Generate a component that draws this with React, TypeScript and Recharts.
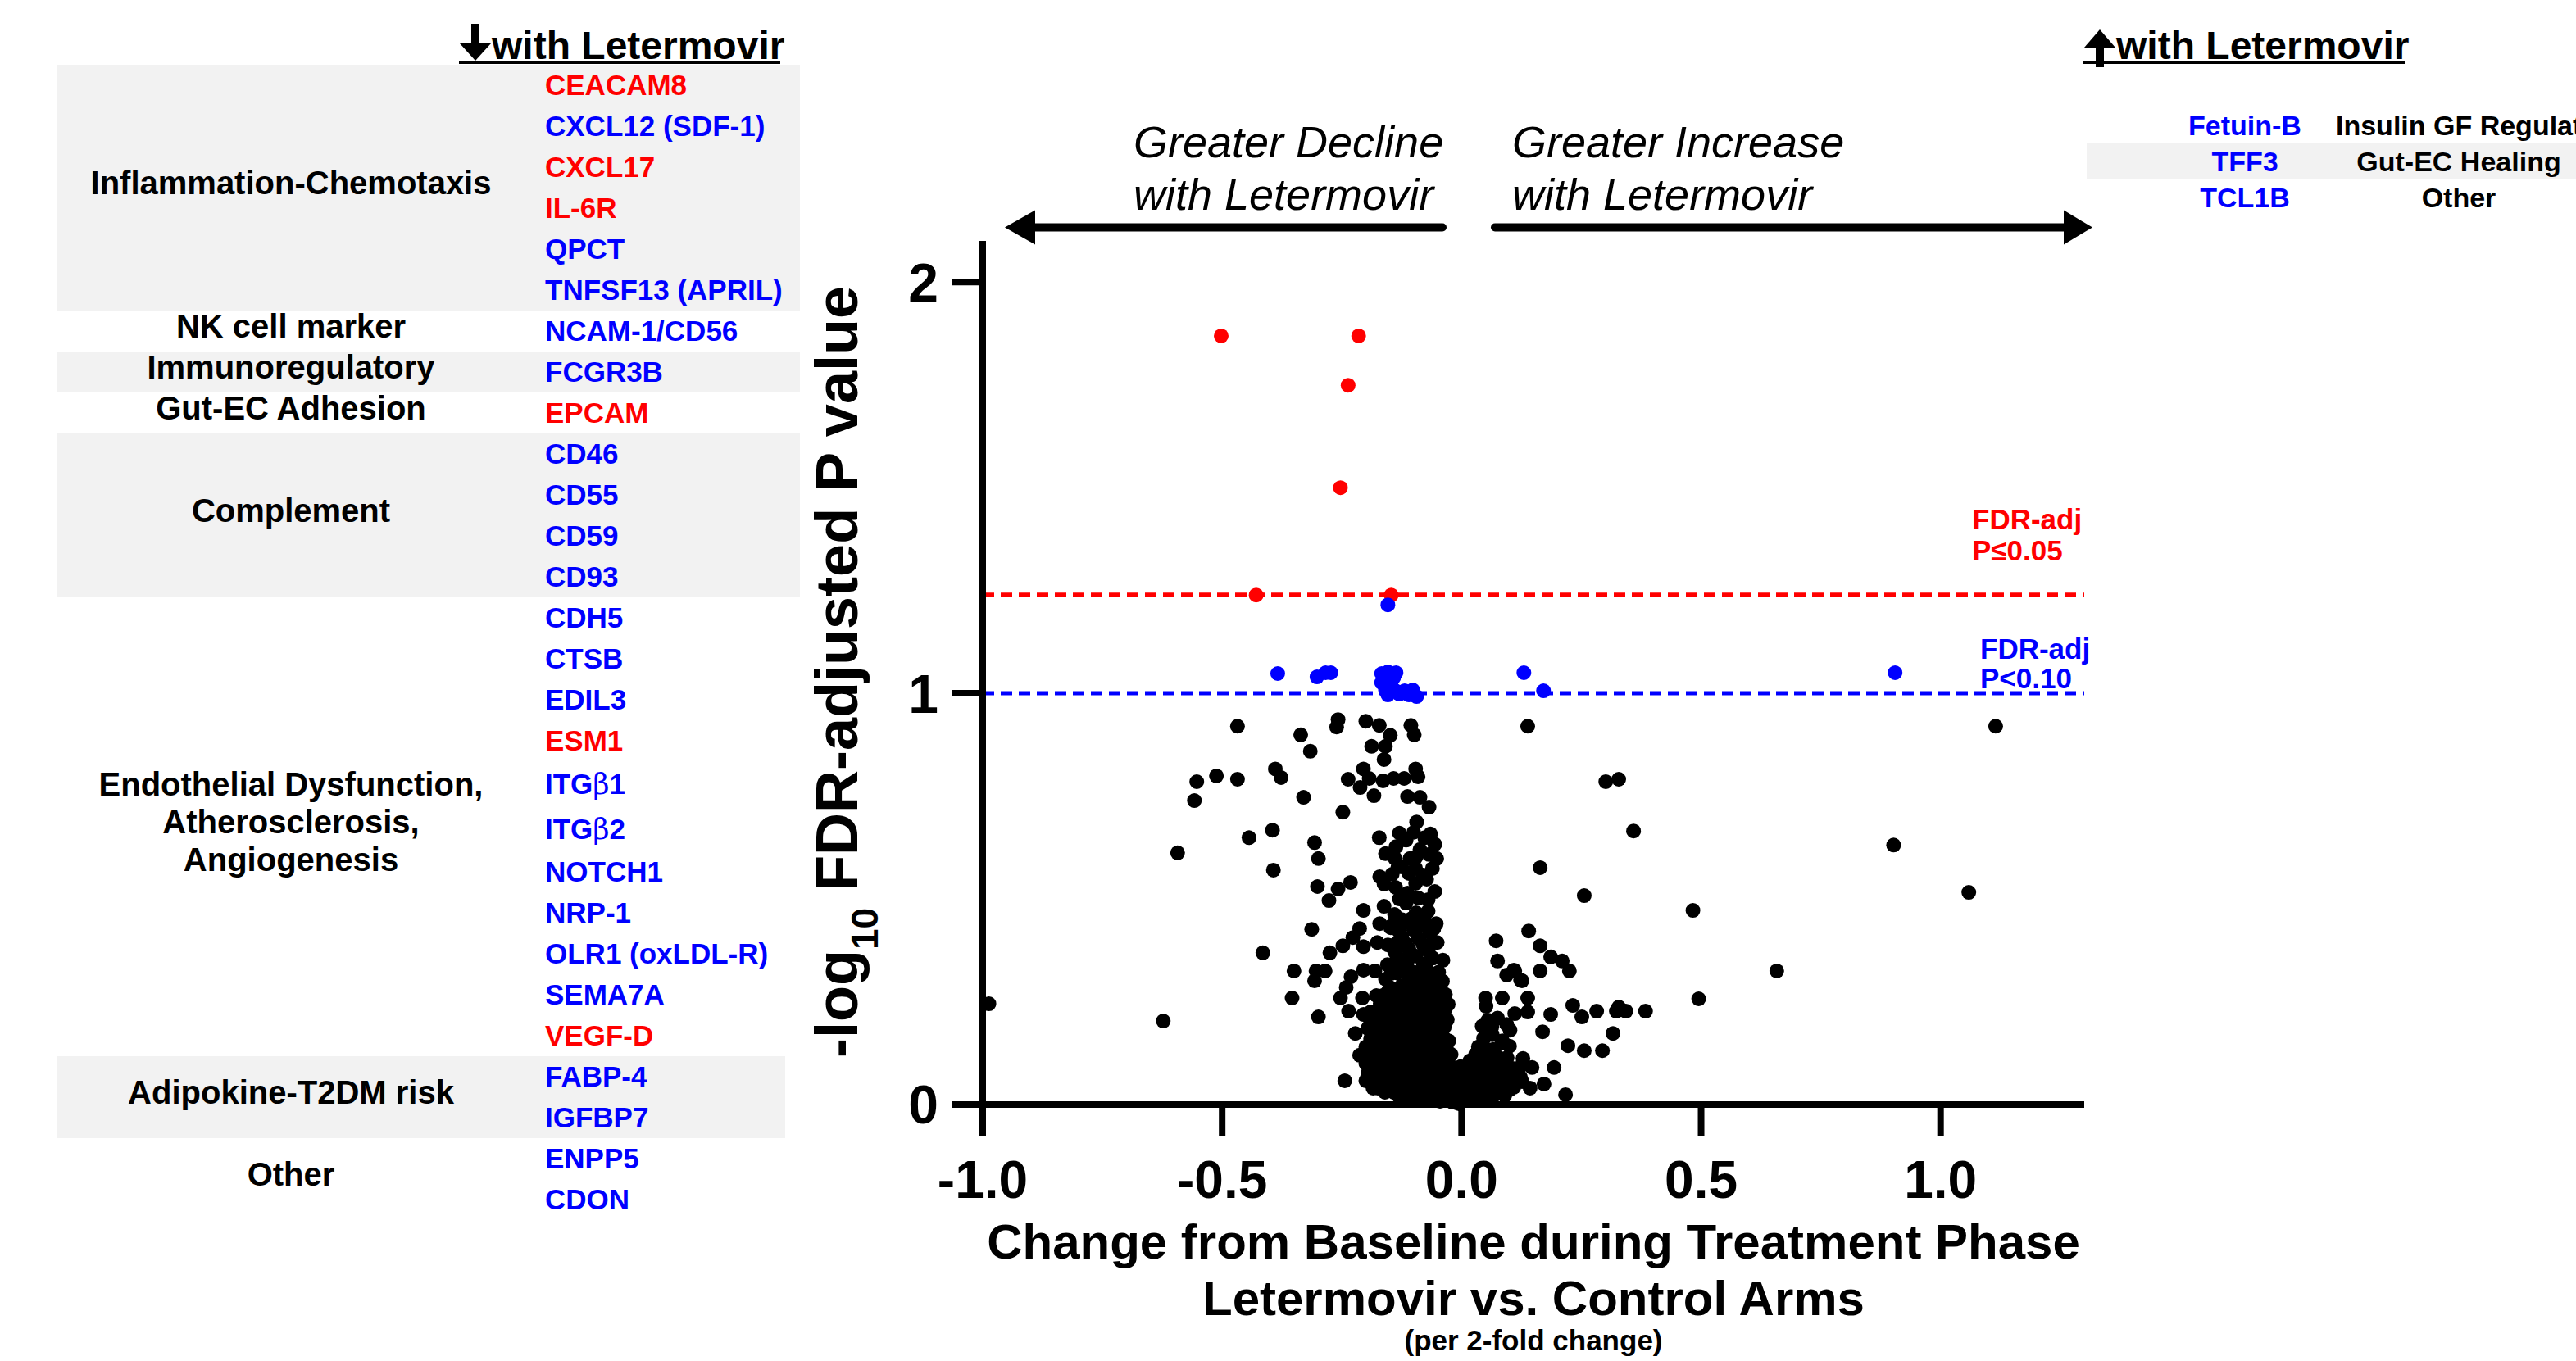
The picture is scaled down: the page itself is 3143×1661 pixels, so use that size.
import React from "react";
import { ScatterChart, Scatter, XAxis, YAxis, ReferenceLine } from "recharts";

const FONT = '"Liberation Sans", Arial, Helvetica, sans-serif';
const RED = "#ff0000";
const BLUE = "#0000ff";
const BAND = "#f2f2f2";

type Pt = [number, number]; // [change per 2-fold, -log10 FDR-adj P]

// FDR-adj P <= 0.05
const sigRed: Pt[] = [
  [-0.502, 1.869], [-0.215, 1.869], [-0.237, 1.749], [-0.253, 1.5],
  [-0.429, 1.239], [-0.147, 1.239],
];

// FDR-adj P < 0.10
const sigBlue: Pt[] = [
  [-0.154, 1.215], [-0.384, 1.048], [-0.302, 1.04], [-0.284, 1.05], [-0.273, 1.05],
  [-0.167, 1.048], [-0.154, 1.052], [-0.137, 1.05], [-0.167, 1.026], [-0.154, 0.996],
  [-0.138, 1.006], [-0.119, 1.006], [-0.102, 1.008], [-0.094, 0.992], [-0.142, 1.038],
  [-0.16, 1.04], [-0.147, 1.028], [-0.13, 0.998], [-0.11, 0.996], [-0.159, 1.008],
  [-0.145, 1.045], [-0.125, 1.003],
  [0.13, 1.05], [0.171, 1.006], [0.905, 1.05],
];

// not significant, left side
const nsLeft: Pt[] = [
  [-0.468, 0.92], [-0.336, 0.899], [-0.316, 0.859], [-0.258, 0.936], [-0.261, 0.918],
  [-0.2, 0.932], [-0.172, 0.922], [-0.149, 0.898], [-0.188, 0.871], [-0.159, 0.871],
  [-0.162, 0.839], [-0.205, 0.816], [-0.237, 0.791], [-0.212, 0.771], [-0.183, 0.751],
  [-0.193, 0.793], [-0.164, 0.787], [-0.142, 0.793], [-0.389, 0.816], [-0.377, 0.795],
  [-0.468, 0.791], [-0.512, 0.799], [-0.553, 0.785], [-0.558, 0.739], [-0.33, 0.747],
  [-0.248, 0.711], [-0.593, 0.612], [-0.444, 0.649], [-0.395, 0.667], [-0.393, 0.57],
  [-0.307, 0.637], [-0.299, 0.598], [-0.172, 0.649], [-0.159, 0.61], [-0.137, 0.627],
  [-0.133, 0.578], [-0.301, 0.53], [-0.258, 0.524], [-0.232, 0.54], [-0.277, 0.496],
  [-0.171, 0.554], [-0.162, 0.536], [-0.138, 0.528], [-0.205, 0.472], [-0.162, 0.482],
  [-0.313, 0.426], [-0.213, 0.428], [-0.171, 0.44], [-0.147, 0.434], [-0.227, 0.406],
  [-0.248, 0.386], [-0.205, 0.384], [-0.176, 0.394], [-0.154, 0.388], [-0.415, 0.369],
  [-0.275, 0.369], [-0.35, 0.325], [-0.304, 0.325], [-0.285, 0.325], [-0.307, 0.301],
  [-0.231, 0.311], [-0.205, 0.327], [-0.181, 0.325], [-0.159, 0.305], [-0.137, 0.349],
  [-0.241, 0.285], [-0.253, 0.259], [-0.207, 0.259], [-0.178, 0.265], [-0.354, 0.259],
  [-0.236, 0.227], [-0.205, 0.219], [-0.159, 0.235], [-0.299, 0.213], [-0.222, 0.173],
  [-0.188, 0.159], [-0.213, 0.12], [-0.193, 0.09], [-0.244, 0.058], [-0.2, 0.058],
  [-0.987, 0.245], [-0.623, 0.203], [-0.171, 0.056], [-0.147, 0.149], [-0.154, 0.195],
  [-0.142, 0.036], [-0.176, 0.082],
  [-0.19, 0.2], [-0.175, 0.215], [-0.18, 0.18], [-0.2, 0.14], [-0.185, 0.12],
  [-0.17, 0.135], [-0.175, 0.1], [-0.19, 0.07], [-0.16, 0.03], [-0.185, 0.04],
];

// not significant, dense core just below zero change
const nsCore: Pt[] = [
  [-0.106, 0.922], [-0.099, 0.899], [-0.12, 0.793], [-0.096, 0.816], [-0.091, 0.797],
  [-0.113, 0.749], [-0.087, 0.747], [-0.068, 0.723], [-0.094, 0.687], [-0.116, 0.643],
  [-0.077, 0.649], [-0.056, 0.633], [-0.068, 0.608], [-0.087, 0.62], [-0.108, 0.598],
  [-0.125, 0.578], [-0.096, 0.574], [-0.061, 0.574], [-0.096, 0.538], [-0.073, 0.548],
  [-0.056, 0.518], [-0.113, 0.514],
  [-0.116, 0.49], [-0.116, 0.444], [-0.082, 0.444], [-0.053, 0.44], [-0.125, 0.408],
  [-0.091, 0.404], [-0.051, 0.394], [-0.13, 0.355], [-0.096, 0.361], [-0.039, 0.351],
  [-0.147, 0.319], [-0.116, 0.329], [-0.073, 0.329], [-0.056, 0.315], [-0.125, 0.289],
  [-0.094, 0.301], [-0.061, 0.289], [-0.142, 0.249], [-0.108, 0.259], [-0.073, 0.255],
  [-0.043, 0.259], [-0.147, 0.215], [-0.12, 0.221], [-0.085, 0.215], [-0.051, 0.221],
  [-0.036, 0.189], [-0.154, 0.175], [-0.12, 0.175], [-0.085, 0.175], [-0.056, 0.169],
  [-0.027, 0.155], [-0.159, 0.135], [-0.125, 0.135], [-0.091, 0.131], [-0.056, 0.129],
  [-0.022, 0.122], [-0.159, 0.096], [-0.125, 0.096], [-0.091, 0.096], [-0.056, 0.09],
  [-0.017, 0.09], [-0.164, 0.062], [-0.137, 0.05], [-0.102, 0.056], [-0.068, 0.05],
  [-0.034, 0.042], [-0.142, 0.03], [-0.108, 0.03], [-0.073, 0.022], [-0.039, 0.02],
  [-0.005, 0.002], [-0.017, 0.016], [0.007, 0.03],
  [-0.06, 0.01], [-0.045, 0.008], [-0.03, 0.012], [-0.02, 0.006], [-0.01, 0.004],
  [-0.09, 0.032], [-0.058, 0.036], [-0.025, 0.03], [-0.012, 0.028],
  [-0.15, 0.046], [-0.12, 0.044], [-0.085, 0.042], [-0.05, 0.048], [-0.02, 0.052],
  [-0.15, 0.068], [-0.118, 0.07], [-0.082, 0.066], [-0.045, 0.068], [-0.028, 0.07],
  [-0.17, 0.084], [-0.14, 0.08], [-0.108, 0.078], [-0.075, 0.082], [-0.04, 0.084],
  [-0.168, 0.112], [-0.14, 0.11], [-0.108, 0.114], [-0.074, 0.112], [-0.04, 0.108],
  [-0.032, 0.14], [-0.172, 0.15], [-0.14, 0.152], [-0.104, 0.148], [-0.07, 0.15],
  [-0.042, 0.146], [-0.136, 0.165], [-0.1, 0.162], [-0.066, 0.164],
  [-0.166, 0.196], [-0.134, 0.194], [-0.1, 0.196], [-0.068, 0.198], [-0.044, 0.202],
  [-0.13, 0.236], [-0.095, 0.238], [-0.06, 0.234], [-0.034, 0.232],
  [-0.155, 0.272], [-0.12, 0.27], [-0.085, 0.274], [-0.046, 0.276],
  [-0.11, 0.312], [-0.076, 0.306], [-0.04, 0.3],
  [-0.155, 0.34], [-0.114, 0.346], [-0.08, 0.342], [-0.06, 0.356],
  [-0.14, 0.372], [-0.11, 0.378], [-0.07, 0.374],
  [-0.13, 0.42], [-0.1, 0.424], [-0.066, 0.418],
  [-0.14, 0.462], [-0.095, 0.466], [-0.07, 0.47],
];

// not significant, packed base of the core
const nsBase: Pt[] = [
  [-0.13, 0.018], [-0.115, 0.018], [-0.095, 0.018], [-0.082, 0.016], [-0.052, 0.02], [-0.028, 0.018],
  [-0.175, 0.04], [-0.128, 0.04], [-0.098, 0.042], [-0.062, 0.04], [-0.045, 0.038], [-0.012, 0.04],
  [-0.185, 0.058], [-0.155, 0.058], [-0.125, 0.06], [-0.09, 0.058], [-0.078, 0.056], [-0.058, 0.06],
  [-0.038, 0.058], [-0.01, 0.06],
  [-0.195, 0.078], [-0.158, 0.078], [-0.125, 0.08], [-0.092, 0.076], [-0.06, 0.078], [-0.025, 0.08],
  [-0.2, 0.1], [-0.148, 0.1], [-0.118, 0.098], [-0.082, 0.1], [-0.066, 0.102], [-0.046, 0.098], [-0.03, 0.1],
  [-0.19, 0.122], [-0.175, 0.124], [-0.15, 0.122], [-0.118, 0.12], [-0.1, 0.124], [-0.085, 0.122],
  [-0.066, 0.12], [-0.04, 0.124],
  [-0.185, 0.14], [-0.155, 0.14], [-0.122, 0.142], [-0.088, 0.138], [-0.074, 0.14], [-0.052, 0.142],
  [-0.19, 0.16], [-0.158, 0.16], [-0.118, 0.162], [-0.082, 0.158], [-0.05, 0.16], [-0.038, 0.164],
  [-0.196, 0.185], [-0.17, 0.185], [-0.14, 0.184], [-0.11, 0.186], [-0.078, 0.184], [-0.062, 0.186], [-0.05, 0.182],
  [-0.185, 0.205], [-0.14, 0.206], [-0.112, 0.204], [-0.09, 0.206], [-0.058, 0.204], [-0.03, 0.206],
  [-0.19, 0.225], [-0.165, 0.226], [-0.138, 0.224], [-0.108, 0.226], [-0.07, 0.224], [-0.048, 0.228],
  [-0.17, 0.245], [-0.125, 0.246], [-0.09, 0.244], [-0.058, 0.246], [-0.028, 0.244],
  [-0.165, 0.265], [-0.135, 0.264], [-0.1, 0.266], [-0.068, 0.264], [-0.034, 0.268],
  [-0.15, 0.285], [-0.108, 0.286], [-0.078, 0.284], [-0.045, 0.286],
  [-0.135, 0.32], [-0.1, 0.322], [-0.085, 0.318], [-0.048, 0.322],
  [-0.138, 0.39], [-0.118, 0.392], [-0.08, 0.388], [-0.062, 0.392],
  [-0.148, 0.43], [-0.09, 0.432], [-0.058, 0.428],
  [-0.125, 0.45], [-0.105, 0.452], [-0.078, 0.448],
  [-0.13, 0.5], [-0.09, 0.502], [-0.07, 0.498],
  [-0.145, 0.56], [-0.11, 0.562], [-0.08, 0.558],
  [-0.14, 0.6], [-0.095, 0.602], [-0.052, 0.598],
  [-0.13, 0.66], [-0.1, 0.662], [-0.065, 0.658],
];

// not significant, right side
const nsRight: Pt[] = [
  [0.072, 0.398], [0.075, 0.349], [0.094, 0.315], [0.111, 0.325], [0.126, 0.301],
  [0.05, 0.259], [0.085, 0.259], [0.051, 0.239], [0.111, 0.221], [0.043, 0.191],
  [0.063, 0.189], [0.094, 0.195], [0.046, 0.161], [0.085, 0.155], [0.029, 0.122],
  [0.06, 0.11], [0.092, 0.082], [0.017, 0.082], [0.041, 0.062], [0.075, 0.056],
  [0.109, 0.042], [0.029, 0.036], [0.058, 0.03], [0.126, 0.096], [0.126, 0.056],
  [0.138, 0.92], [0.301, 0.785], [0.328, 0.791], [0.359, 0.665], [0.164, 0.576],
  [0.256, 0.508], [0.483, 0.472], [0.14, 0.422], [0.164, 0.386], [0.186, 0.359],
  [0.21, 0.349], [0.225, 0.325], [0.109, 0.327], [0.123, 0.303], [0.164, 0.325],
  [0.658, 0.325], [0.495, 0.257], [0.138, 0.259], [0.138, 0.225], [0.232, 0.241],
  [0.251, 0.213], [0.282, 0.227], [0.323, 0.227], [0.328, 0.237], [0.343, 0.227],
  [0.384, 0.227], [0.186, 0.219], [0.169, 0.177], [0.316, 0.173], [0.222, 0.143],
  [0.256, 0.131], [0.294, 0.131], [0.128, 0.112], [0.147, 0.09], [0.193, 0.09],
  [0.172, 0.05], [0.217, 0.024], [0.123, 0.066], [0.143, 0.04], [0.089, 0.08],
  [0.101, 0.181], [0.084, 0.149], [0.034, 0.129], [0.017, 0.106], [0.063, 0.102],
  [0.109, 0.056], [0.029, 0.07], [0.068, 0.05], [0.012, 0.042], [0.05, 0.03],
  [0.007, 0.01], [-0.002, 0.092],
  [0.015, 0.012], [0.03, 0.016], [0.04, 0.022], [0.055, 0.02], [0.07, 0.024],
  [0.085, 0.034], [0.1, 0.036], [0.018, 0.052], [0.095, 0.062], [0.05, 0.076],
  [0.075, 0.074], [0.1, 0.078], [0.04, 0.098], [0.08, 0.104], [0.05, 0.136],
  [0.066, 0.134], [0.064, 0.17], [0.055, 0.205], [0.075, 0.21],
  [0.022, 0.02], [0.062, 0.02], [0.09, 0.022], [0.03, 0.045], [0.045, 0.046],
  [0.078, 0.044], [0.095, 0.046], [0.006, 0.065], [0.06, 0.066], [0.085, 0.064],
  [0.11, 0.066], [0.028, 0.09], [0.055, 0.092], [0.07, 0.09], [0.105, 0.088],
  [0.045, 0.115], [0.075, 0.116], [0.095, 0.114], [0.035, 0.14], [0.1, 0.142],
  [1.115, 0.92], [0.902, 0.631], [1.059, 0.516],
];

const xTicks = [-1, -0.5, 0, 0.5, 1];
const yTicks = [0, 1, 2];
const fdr05 = 1.24;
const fdr10 = 1.0;

// tables
const downGroups = [
  { category: ["Inflammation-Chemotaxis"], genes: ["CEACAM8", "CXCL12 (SDF-1)", "CXCL17", "IL-6R", "QPCT", "TNFSF13 (APRIL)"] },
  { category: ["NK cell marker"], genes: ["NCAM-1/CD56"] },
  { category: ["Immunoregulatory"], genes: ["FCGR3B"] },
  { category: ["Gut-EC Adhesion"], genes: ["EPCAM"] },
  { category: ["Complement"], genes: ["CD46", "CD55", "CD59", "CD93"] },
  {
    category: ["Endothelial Dysfunction,", "Atherosclerosis,", "Angiogenesis"],
    genes: ["CDH5", "CTSB", "EDIL3", "ESM1", "ITGβ1", "ITGβ2", "NOTCH1", "NRP-1", "OLR1 (oxLDL-R)", "SEMA7A", "VEGF-D"],
  },
  { category: ["Adipokine-T2DM risk"], genes: ["FABP-4", "IGFBP7"] },
  { category: ["Other"], genes: ["ENPP5", "CDON"] },
];
const redGenes = ["CEACAM8", "CXCL17", "IL-6R", "EPCAM", "ESM1", "VEGF-D"];

const upGenes = ["Fetuin-B", "TFF3", "TCL1B"];
const upCategories = ["Insulin GF Regulation", "Gut-EC Healing", "Other"];

const toObj = (arr: Pt[]) => arr.map(([x, y]) => ({ x, y }));

const dot = (color: string) => (props: any) =>
  <circle cx={props.cx} cy={props.cy} r={9} fill={color} />;

function GeneName({ name }: { name: string }) {
  return (
    <>
      {name.split(/(β)/).map((part, i) =>
        part === "β" ? (
          <span key={i} style={{ fontFamily: '"DejaVu Serif", serif', fontWeight: 400 }}>β</span>
        ) : (
          <span key={i}>{part}</span>
        )
      )}
    </>
  );
}

function DownTable() {
  return (
    <div style={{ position: "absolute", left: 70, top: 79, width: 906, fontFamily: FONT, fontWeight: 700 }}>
      {downGroups.map((g, i) => (
        <div
          key={i}
          style={{
            display: "flex",
            background: i % 2 === 0 ? BAND : "transparent",
            width: i === downGroups.length - 2 ? 888 : 906,
          }}
        >
          <div
            style={{
              width: 570, display: "flex", alignItems: "center", justifyContent: "center",
              textAlign: "center", fontSize: 40, lineHeight: "46px", color: "#000",
            }}
          >
            <div style={{ transform: "translateY(-6px)" }}>
              {g.category.map((c) => (
                <div key={c} style={{ whiteSpace: "nowrap" }}>{c}</div>
              ))}
            </div>
          </div>
          <div style={{ paddingLeft: 25 }}>
            {g.genes.map((n) => {
              const h = n.includes("β") ? 55 : 50;
              return (
                <div
                  key={n}
                  style={{
                    height: h, lineHeight: h + "px", fontSize: 35, whiteSpace: "nowrap",
                    color: redGenes.includes(n) ? RED : BLUE,
                  }}
                >
                  <GeneName name={n} />
                </div>
              );
            })}
          </div>
        </div>
      ))}
    </div>
  );
}

function UpTable() {
  return (
    <div style={{ position: "absolute", left: 2546, top: 131, width: 597, fontFamily: FONT, fontWeight: 700, fontSize: 34 }}>
      {upGenes.map((g, i) => (
        <div key={g} style={{ position: "relative", height: 44, lineHeight: "44px", background: i % 2 === 1 ? BAND : "transparent" }}>
          <div style={{ position: "absolute", left: 0, width: 386, textAlign: "center", color: BLUE }}>{g}</div>
          <div style={{ position: "absolute", left: 304, width: 300, textAlign: "center", color: "#000", whiteSpace: "nowrap" }}>
            {upCategories[i]}
          </div>
        </div>
      ))}
    </div>
  );
}

function Header({ left, up }: { left: number; up: boolean }) {
  return (
    <div style={{ position: "absolute", left, top: 26, width: 400, height: 60 }}>
      <svg width={44} height={60} style={{ position: "absolute", left: 0, top: 0 }}>
        {up ? (
          <>
            <polygon points="20,10 39,32 1,32" fill="#000" />
            <rect x={15} y={28} width={10} height={28} fill="#000" />
          </>
        ) : (
          <>
            <rect x={15} y={3} width={10} height={28} fill="#000" />
            <polygon points="1,27 39,27 20,48" fill="#000" />
          </>
        )}
      </svg>
      <div
        style={{
          position: "absolute", left: 40, top: 6, fontFamily: FONT, fontWeight: 700, fontSize: 48,
          lineHeight: "48px", whiteSpace: "nowrap", color: "#000",
        }}
      >
        with Letermovir
      </div>
      <div style={{ position: "absolute", left: 0, top: 48, width: 392, height: 4, background: "#000" }} />
    </div>
  );
}

function Overlay() {
  const t = { fontFamily: FONT, fill: "#000" };
  return (
    <svg width={3143} height={1661} style={{ position: "absolute", left: 0, top: 0, pointerEvents: "none" }}>
      {/* direction arrows */}
      <line x1={1760} y1={277.5} x2={1250} y2={277.5} stroke="#000" strokeWidth={10} strokeLinecap="round" />
      <polygon points="1226,277.5 1263,256.5 1263,298.5" fill="#000" />
      <line x1={1824} y1={277.5} x2={2530} y2={277.5} stroke="#000" strokeWidth={10} strokeLinecap="round" />
      <polygon points="2553,277.5 2518,256.5 2518,298.5" fill="#000" />

      <g {...t} fontStyle="italic" fontSize={54}>
        <text x={1383} y={192}>Greater Decline</text>
        <text x={1383} y={256}>with Letermovir</text>
        <text x={1845} y={192}>Greater Increase</text>
        <text x={1845} y={256}>with Letermovir</text>
      </g>

      <g fontFamily={FONT} fontWeight={700} fontSize={35}>
        <text x={2406} y={646} fill={RED}>FDR-adj</text>
        <text x={2406} y={684} fill={RED}>P≤0.05</text>
        <text x={2416} y={804} fill={BLUE}>FDR-adj</text>
        <text x={2416} y={840} fill={BLUE}>P&lt;0.10</text>
      </g>

      <text {...t} fontWeight={700} fontSize={72} x={1046} y={820} textAnchor="middle" transform="rotate(-90 1046 820)">
        -log<tspan fontSize={46} dy={25}>10</tspan>
        <tspan dy={-25}> FDR-adjusted P value</tspan>
      </text>

      <g {...t} fontWeight={700} textAnchor="middle">
        <text x={1871} y={1536} fontSize={60}>Change from Baseline during Treatment Phase</text>
        <text x={1871} y={1605} fontSize={60}>Letermovir vs. Control Arms</text>
        <text x={1871} y={1648} fontSize={35}>(per 2-fold change)</text>
      </g>
    </svg>
  );
}

export default function App() {
  const axisStyle = { stroke: "#000", strokeWidth: 8 };
  return (
    <div style={{ position: "absolute", left: 0, top: 0, width: 3143, height: 1661, overflow: "hidden", background: "#fff" }}>
      <div style={{ position: "absolute", left: 0, top: 0 }}>
        <ScatterChart width={3143} height={1661} margin={{ top: 294, right: 600, bottom: 213, left: 999 }}>
          <XAxis
            type="number"
            dataKey="x"
            domain={[-1, 1.3]}
            ticks={xTicks}
            tickFormatter={(v: number) => v.toFixed(1)}
            height={100}
            axisLine={axisStyle}
            tickLine={axisStyle}
            tickSize={38}
            tickMargin={31}
            tick={{ fill: "#000", fontSize: 64, fontWeight: 700, fontFamily: FONT }}
          />
          <YAxis
            type="number"
            dataKey="y"
            domain={[0, 2.1]}
            ticks={yTicks}
            width={200}
            axisLine={axisStyle}
            tickLine={axisStyle}
            tickSize={37}
            tickMargin={17}
            tick={{ fill: "#000", fontSize: 66, fontWeight: 700, fontFamily: FONT }}
          />
          <ReferenceLine y={fdr05} stroke={RED} strokeWidth={5} strokeDasharray="14 8" />
          <ReferenceLine y={fdr10} stroke={BLUE} strokeWidth={5} strokeDasharray="14 8" />
          <Scatter data={toObj([...nsLeft, ...nsCore, ...nsBase, ...nsRight])} shape={dot("#000")} isAnimationActive={false} />
          <Scatter data={toObj(sigRed)} shape={dot(RED)} isAnimationActive={false} />
          <Scatter data={toObj(sigBlue)} shape={dot(BLUE)} isAnimationActive={false} />
        </ScatterChart>
      </div>
      <DownTable />
      <UpTable />
      <Header left={560} up={false} />
      <Header left={2542} up={true} />
      <Overlay />
    </div>
  );
}
